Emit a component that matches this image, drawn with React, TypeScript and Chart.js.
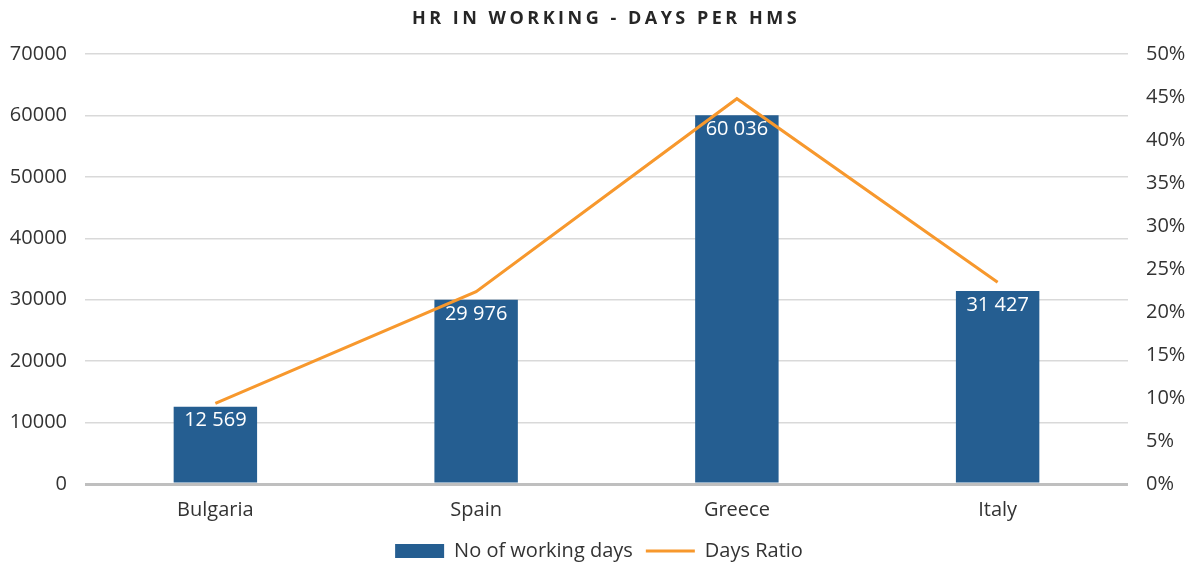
import React, { useEffect, useRef } from "react";
import { Chart, registerables } from "chart.js";

Chart.register(...registerables);

const categories = ["Bulgaria", "Spain", "Greece", "Italy"];
const workingDays = [12569, 29976, 60036, 31427];
const daysRatio = [9.38, 22.37, 44.8, 23.45];
const chartTitle = "HR IN WORKING - DAYS PER HMS";
const seriesNames = ["No of working days", "Days Ratio"];

const FONT = "'Open Sans', 'Noto Sans', sans-serif";
const BLUE = "#255E91";
const ORANGE = "#F7982D";
const TXT = "#333333";

const fmt = (v: number) => String(v).replace(/\B(?=(\d{3})+(?!\d))/g, " ");

const titlePlugin = {
  id: "customTitle",
  afterDraw(chart: any) {
    const ctx = chart.ctx;
    ctx.save();
    ctx.font = `bold 18px ${FONT}`;
    (ctx as any).letterSpacing = "3.5px";
    ctx.fillStyle = "#262626";
    ctx.textAlign = "center";
    ctx.textBaseline = "middle";
    ctx.fillText(chartTitle, chart.width / 2 + 7, 19);
    ctx.restore();
  },
};

const labelPlugin = {
  id: "barLabels",
  afterDatasetsDraw(chart: any) {
    const ctx = chart.ctx;
    const meta = chart.getDatasetMeta(1);
    ctx.save();
    ctx.font = `20px ${FONT}`;
    ctx.fillStyle = "#ffffff";
    ctx.textAlign = "center";
    ctx.textBaseline = "middle";
    meta.data.forEach((bar: any, i: number) => {
      ctx.fillText(fmt(workingDays[i]), bar.x, bar.y + 14);
    });
    ctx.restore();
  },
};

export default function App() {
  const ref = useRef<HTMLCanvasElement>(null);
  useEffect(() => {
    document.body.style.margin = "0";
    const chart = new Chart(ref.current!, {
      type: "bar",
      data: {
        labels: categories,
        datasets: [
          {
            type: "line",
            label: seriesNames[1],
            data: daysRatio,
            borderColor: ORANGE,
            backgroundColor: ORANGE,
            borderWidth: 3,
            pointRadius: 0,
            pointStyle: "line",
            yAxisID: "y1",
            order: 0,
          } as any,
          {
            type: "bar",
            label: seriesNames[0],
            data: workingDays,
            backgroundColor: BLUE,
            borderWidth: 0,
            pointStyle: "rect",
            categoryPercentage: 1,
            barPercentage: 0.32,
            yAxisID: "y",
            order: 1,
          } as any,
        ],
      },
      options: {
        responsive: false,
        animation: false,
        layout: { padding: { top: 54, left: 0, right: 0, bottom: -4 } },
        plugins: {
          title: { display: false },
          tooltip: { enabled: false },
          legend: {
            position: "bottom",
            reverse: true,
            labels: {
              usePointStyle: true,
              pointStyleWidth: 49,
              boxHeight: 14,
              color: TXT,
              font: { family: FONT, size: 20 },
              padding: 13,
            },
          },
        },
        scales: {
          x: {
            grid: { display: false },
            border: { display: false },
            ticks: { color: TXT, font: { family: FONT, size: 20 }, padding: 6 },
          },
          y: {
            position: "left",
            min: 0,
            max: 70000,
            ticks: {
              stepSize: 10000,
              color: TXT,
              font: { family: FONT, size: 20 },
              padding: 18,
              callback: (v: any) => String(v),
            },
            border: { display: false },
            grid: {
              drawTicks: false,
              color: (c: any) => (c.tick && c.tick.value === 0 ? "#BFBFBF" : "#D9D9D9"),
              lineWidth: (c: any) => (c.tick && c.tick.value === 0 ? 3 : 1.5),
            },
            afterFit: (s: any) => {
              s.width = 85;
            },
          },
          y1: {
            position: "right",
            min: 0,
            max: 50,
            ticks: {
              stepSize: 5,
              color: TXT,
              font: { family: FONT, size: 20 },
              padding: 18,
              callback: (v: any) => v + "%",
            },
            border: { display: false },
            grid: { display: false, drawTicks: false },
            afterFit: (s: any) => {
              s.width = 70;
            },
          },
        },
      },
      plugins: [titlePlugin, labelPlugin],
    });
    return () => chart.destroy();
  }, []);
  return (
    <div style={{ width: 1198, height: 567 }}>
      <canvas ref={ref} width={1198} height={567} />
    </div>
  );
}
